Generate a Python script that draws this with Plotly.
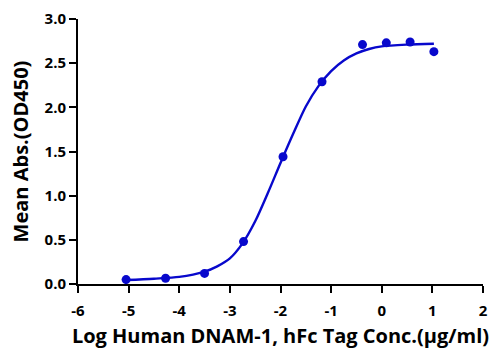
import plotly.graph_objects as go

# Measured points (log concentration, mean absorbance)
log_conc = [-5.05, -4.27, -3.50, -2.73, -1.95, -1.18, -0.38, 0.09, 0.56, 1.03]
mean_abs = [0.05, 0.065, 0.12, 0.48, 1.44, 2.29, 2.71, 2.73, 2.74, 2.63]

# Fitted curve
curve_x = [-5.05, -4.50, -4.00, -3.50, -3.25, -3.00, -2.75, -2.50, -2.25, -2.00,
           -1.75, -1.50, -1.25, -1.00, -0.75, -0.50, -0.25, 0.00, 0.50, 1.03]
curve_y = [0.045, 0.06, 0.08, 0.14, 0.20, 0.29, 0.46, 0.71, 1.03, 1.37,
           1.70, 2.01, 2.24, 2.41, 2.53, 2.61, 2.66, 2.69, 2.71, 2.72]

x_ticks = [-6, -5, -4, -3, -2, -1, 0, 1, 2]
y_ticks = [0.0, 0.5, 1.0, 1.5, 2.0, 2.5, 3.0]
x_title = "Log Human DNAM-1, hFc Tag Conc.(μg/ml)"
y_title = "Mean Abs.(OD450)"

color = "#0808cc"
font_family = "Open Sans"

fig = go.Figure()
fig.add_trace(go.Scatter(x=curve_x, y=curve_y, mode="lines",
                         line=dict(color=color, width=2.4, shape="spline", smoothing=0.8),
                         hoverinfo="skip", showlegend=False))
fig.add_trace(go.Scatter(x=log_conc, y=mean_abs, mode="markers",
                         marker=dict(color=color, size=9), showlegend=False))

fig.update_layout(
    width=496, height=352,
    margin=dict(l=78, r=8, t=19, b=68),
    paper_bgcolor="white", plot_bgcolor="white",
    font=dict(family=font_family, color="black"),
    xaxis=dict(range=[-6, 2], tickvals=x_ticks, ticktext=[str(v) for v in x_ticks],
               showgrid=False, zeroline=False, showline=True, linecolor="black", linewidth=2,
               ticks="outside", ticklen=7, tickwidth=2, tickcolor="black",
               ticklabelstandoff=5,
               tickfont=dict(size=15, family=font_family, weight="bold"),
               title=dict(text=x_title, font=dict(size=20, family=font_family, weight="bold"), standoff=10)),
    yaxis=dict(range=[0, 3], tickvals=y_ticks, ticktext=["%.1f" % v for v in y_ticks],
               showgrid=False, zeroline=False, showline=True, linecolor="black", linewidth=2,
               ticks="outside", ticklen=7, tickwidth=2, tickcolor="black",
               tickfont=dict(size=15, family=font_family, weight="bold"),
               title=dict(text=y_title, font=dict(size=20, family=font_family, weight="bold"), standoff=11)),
)

fig.write_html("out.html")
